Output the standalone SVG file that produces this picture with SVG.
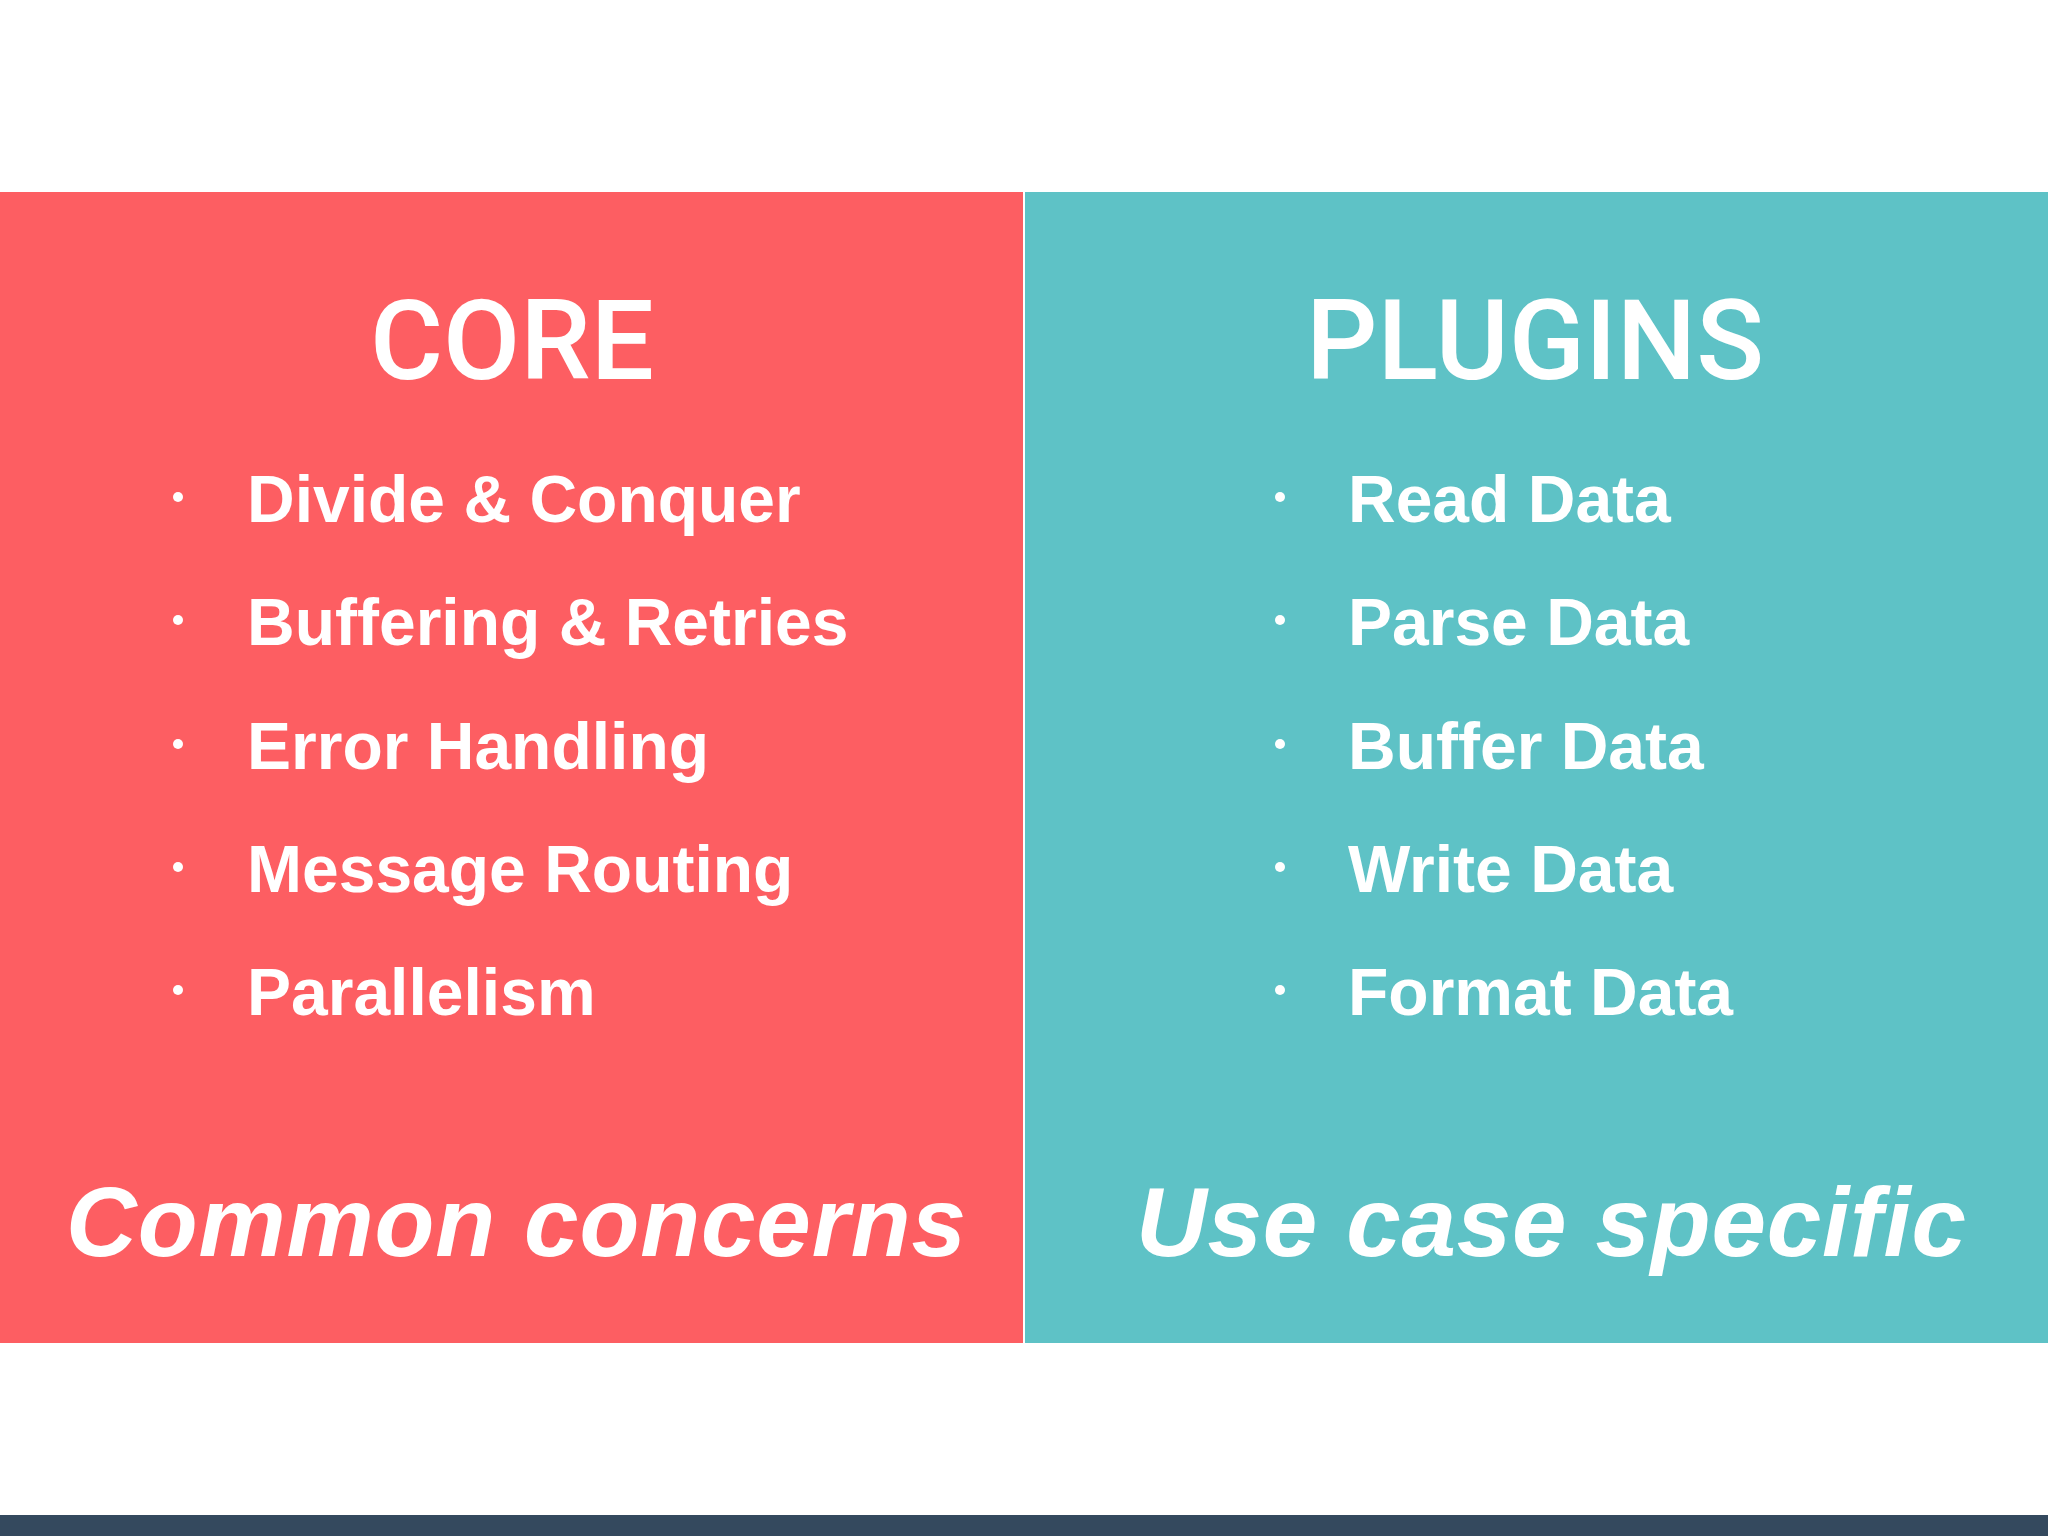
<svg xmlns="http://www.w3.org/2000/svg" width="2048" height="1536" viewBox="0 0 2048 1536">
<style>
.t{font-family:"Liberation Sans",Arial,sans-serif;fill:#fff}
.h{font-family:Roboto,"Liberation Sans",sans-serif;font-size:112px;font-weight:500}
.b{font-size:66px;font-weight:bold}
.f{font-size:98px;font-weight:bold;font-style:italic}
</style>
<rect width="2048" height="1536" fill="#fff"/>
<g id="core">
<rect x="0" y="192" width="1023" height="1151" fill="#fd5e62"/>
<text class="t h" x="512" y="379" text-anchor="middle">CORE</text>
<g class="t b">
<circle cx="178" cy="497" r="5" fill="#fff"/><text x="247" y="522">Divide &amp; Conquer</text>
<circle cx="178" cy="620" r="5" fill="#fff"/><text x="247" y="645">Buffering &amp; Retries</text>
<circle cx="178" cy="744" r="5" fill="#fff"/><text x="247" y="769">Error Handling</text>
<circle cx="178" cy="867" r="5" fill="#fff"/><text x="247" y="892">Message Routing</text>
<circle cx="178" cy="990" r="5" fill="#fff"/><text x="247" y="1015">Parallelism</text>
</g>
<text class="t f" x="516" y="1256" text-anchor="middle" textLength="900">Common concerns</text>
</g>
<g id="plugins">
<rect x="1025" y="192" width="1023" height="1151" fill="#5ec2c6"/>
<text class="t h" x="1535" y="379" text-anchor="middle">PLUGINS</text>
<g class="t b">
<circle cx="1280" cy="497" r="5" fill="#fff"/><text x="1348" y="522">Read Data</text>
<circle cx="1280" cy="620" r="5" fill="#fff"/><text x="1348" y="645">Parse Data</text>
<circle cx="1280" cy="744" r="5" fill="#fff"/><text x="1348" y="769">Buffer Data</text>
<circle cx="1280" cy="867" r="5" fill="#fff"/><text x="1348" y="892">Write Data</text>
<circle cx="1280" cy="990" r="5" fill="#fff"/><text x="1348" y="1015">Format Data</text>
</g>
<text class="t f" x="1551" y="1256" text-anchor="middle" textLength="830">Use case specific</text>
</g>
<rect x="0" y="1515" width="2048" height="21" fill="#34495e"/>
</svg>
